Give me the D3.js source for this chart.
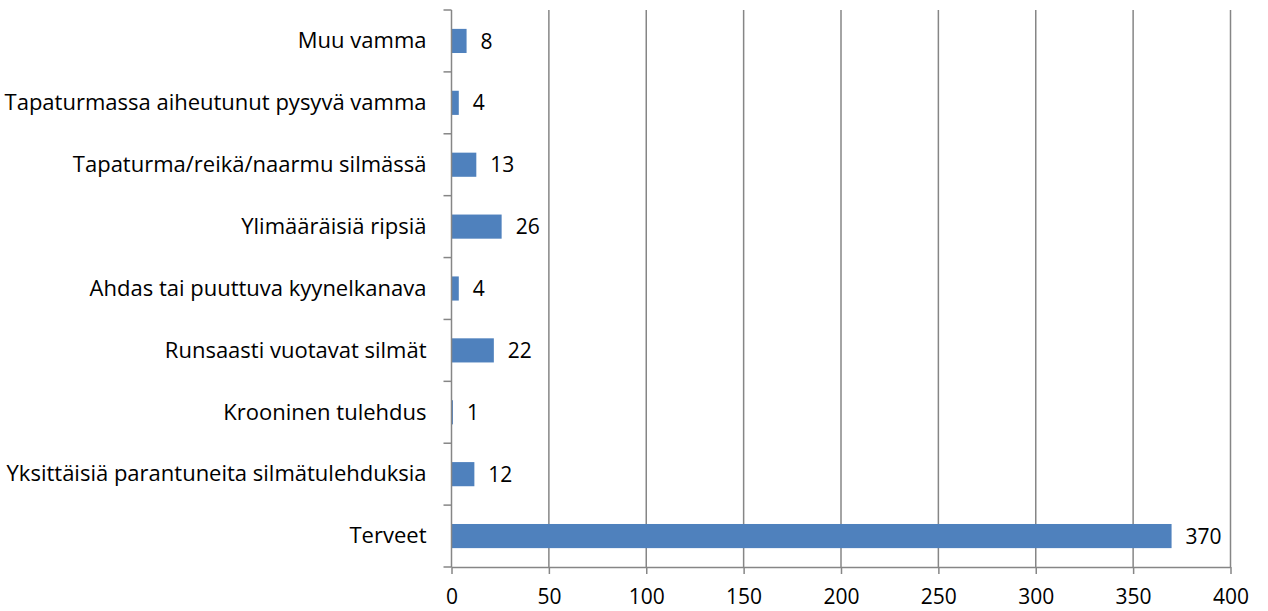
<!DOCTYPE html>
<html>
<head>
<meta charset="utf-8">
<script src="https://cdn.jsdelivr.net/npm/d3@7"></script>
<style>
  body { margin: 0; background: white; }
  text { font-family: "Open Sans", sans-serif; fill: #000; }
</style>
</head>
<body>
<script>
// Data (top to bottom)
const categories = [
  "Muu vamma",
  "Tapaturmassa aiheutunut pysyvä vamma",
  "Tapaturma/reikä/naarmu silmässä",
  "Ylimääräisiä ripsiä",
  "Ahdas tai puuttuva kyynelkanava",
  "Runsaasti vuotavat silmät",
  "Krooninen tulehdus",
  "Yksittäisiä parantuneita silmätulehduksia",
  "Terveet"
];
const values = [8, 4, 13, 26, 4, 22, 1, 12, 370];
const xTicks = [0, 50, 100, 150, 200, 250, 300, 350, 400];

// Setup variables
const width = 1268;
const height = 611;
const xStart = 451;
const xEnd = 1230;
const yStart = 10;
const yEnd = 567;
const labelSize = 22;
const numberSize = 21;
const gridColor = "#868686";
const barColor = "#4f81bd";

const svg = d3.select("body")
  .append("svg")
  .attr("width", width)
  .attr("height", height);

const x = d3.scaleLinear().domain([0, 400]).range([xStart, xEnd]);
const y = d3.scaleBand().domain(categories).range([yStart, yEnd]).paddingInner(0.61).paddingOuter(0.305);
const yBand = d3.scaleBand().domain(categories).range([yStart, yEnd]);

// Vertical gridlines
svg.append("g")
  .selectAll("line")
  .data(xTicks.filter(d => d > 0))
  .join("line")
  .attr("x1", d => x(d) + 0.5)
  .attr("x2", d => x(d) + 0.5)
  .attr("y1", yStart)
  .attr("y2", yEnd)
  .attr("stroke", gridColor)
  .attr("stroke-width", 1.5);

// Bars
svg.append("g")
  .selectAll("rect")
  .data(values)
  .join("rect")
  .attr("x", x(0))
  .attr("y", (d, i) => y(categories[i]))
  .attr("width", d => x(d) - x(0))
  .attr("height", y.bandwidth())
  .attr("fill", barColor);

// Value labels
svg.append("g")
  .selectAll("text")
  .data(values)
  .join("text")
  .attr("x", d => x(d) + 14)
  .attr("y", (d, i) => yBand(categories[i]) + yBand.bandwidth() / 2)
  .attr("dy", "0.36em")
  .attr("font-size", numberSize)
  .text(d => d);

// X axis
const xAxis = svg.append("g")
  .attr("transform", `translate(0.5, ${yEnd})`)
  .call(d3.axisBottom(x).tickValues(xTicks).tickSize(7).tickPadding(15).tickSizeOuter(0));
xAxis.select(".domain").attr("stroke", gridColor).attr("stroke-width", 1.5);
xAxis.selectAll(".tick line").attr("stroke", gridColor).attr("stroke-width", 1.5);
xAxis.selectAll("text").attr("font-size", numberSize).attr("font-family", "Open Sans, sans-serif");

// Y axis with ticks at band boundaries
const yAxisG = svg.append("g").attr("transform", `translate(${xStart + 0.5}, 0)`);
yAxisG.append("line")
  .attr("y1", yStart).attr("y2", yEnd)
  .attr("stroke", gridColor).attr("stroke-width", 1.5);
yAxisG.selectAll(".bt")
  .data(d3.range(categories.length + 1))
  .join("line")
  .attr("class", "bt")
  .attr("x1", -8).attr("x2", 0)
  .attr("y1", i => yStart + i * yBand.step())
  .attr("y2", i => yStart + i * yBand.step())
  .attr("stroke", gridColor).attr("stroke-width", 1.5);
yAxisG.selectAll("text")
  .data(categories)
  .join("text")
  .attr("x", -25)
  .attr("y", d => yBand(d) + yBand.bandwidth() / 2)
  .attr("dy", "0.33em")
  .attr("text-anchor", "end")
  .attr("font-size", labelSize)
  .text(d => d);
</script>
</body>
</html>
